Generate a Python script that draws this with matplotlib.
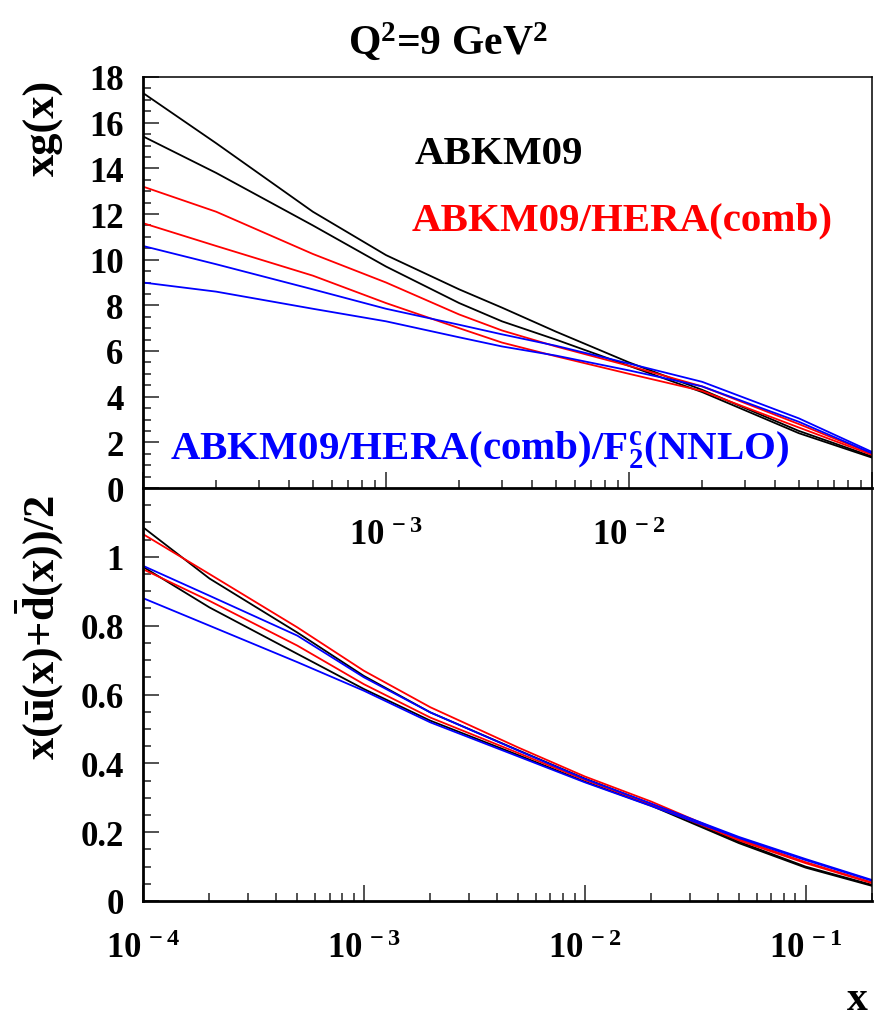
import numpy as np
import matplotlib.pyplot as plt
from matplotlib.ticker import LogLocator, NullFormatter, MultipleLocator, FixedLocator, FixedFormatter

plt.rcParams['font.family'] = ['Liberation Serif', 'DejaVu Serif']
plt.rcParams['font.weight'] = 'bold'
plt.rcParams['mathtext.fontset'] = 'custom'
plt.rcParams['mathtext.rm'] = 'Liberation Serif:bold'
plt.rcParams['mathtext.it'] = 'Liberation Serif:bold'
plt.rcParams['mathtext.bf'] = 'Liberation Serif:bold'

# gluon xg(x) at Q^2 = 9 GeV^2, upper/lower edge of each band
x_glu = [1e-4, 2e-4, 5e-4, 1e-3, 2e-3, 3e-3, 5e-3, 1e-2, 2e-2, 5e-2, 1e-1]
glu_abkm_up = [17.3, 15.1, 12.1, 10.2, 8.7, 7.9, 6.85, 5.5, 4.3, 2.5, 1.38]
glu_abkm_lo = [15.4, 13.8, 11.5, 9.7, 8.1, 7.3, 6.5, 5.35, 4.2, 2.4, 1.33]
glu_hera_up = [13.2, 12.1, 10.25, 9.0, 7.6, 6.9, 6.2, 5.35, 4.45, 2.8, 1.5]
glu_hera_lo = [11.6, 10.6, 9.3, 8.1, 7.0, 6.37, 5.77, 5.0, 4.25, 2.65, 1.45]
glu_f2c_up = [10.6, 9.8, 8.7, 7.85, 7.15, 6.73, 6.23, 5.45, 4.65, 3.05, 1.58]
glu_f2c_lo = [9.0, 8.6, 7.85, 7.3, 6.6, 6.2, 5.8, 5.15, 4.45, 2.9, 1.52]

# sea x(ubar+dbar)/2
x_sea = [1e-4, 2e-4, 5e-4, 1e-3, 2e-3, 5e-3, 1e-2, 2e-2, 5e-2, 1e-1, 2e-1]
sea_abkm_up = [1.086, 0.937, 0.780, 0.654, 0.548, 0.438, 0.356, 0.282, 0.172, 0.100, 0.047]
sea_abkm_lo = [0.971, 0.853, 0.718, 0.616, 0.524, 0.424, 0.347, 0.277, 0.168, 0.097, 0.044]
sea_hera_up = [1.066, 0.950, 0.795, 0.669, 0.563, 0.446, 0.362, 0.289, 0.180, 0.113, 0.054]
sea_hera_lo = [0.964, 0.872, 0.742, 0.630, 0.533, 0.430, 0.352, 0.281, 0.176, 0.110, 0.052]
sea_f2c_up = [0.974, 0.887, 0.771, 0.650, 0.548, 0.437, 0.355, 0.283, 0.186, 0.122, 0.061]
sea_f2c_lo = [0.880, 0.800, 0.694, 0.611, 0.519, 0.420, 0.345, 0.276, 0.183, 0.119, 0.059]

W, H = 874, 1020
fig = plt.figure(figsize=(W / 100, H / 100), dpi=100)
ax1 = fig.add_axes([143 / W, 1 - 489 / H, 729 / W, 411 / H])
ax2 = fig.add_axes([143 / W, 1 - 902 / H, 729 / W, 413 / H])
ax1.set_zorder(3)

lw = 1.3
ax1.plot(x_glu, glu_abkm_up, color='black', lw=lw)
ax1.plot(x_glu, glu_abkm_lo, color='black', lw=lw)
ax1.plot(x_glu, glu_hera_up, color='red', lw=lw)
ax1.plot(x_glu, glu_hera_lo, color='red', lw=lw)
ax1.plot(x_glu, glu_f2c_up, color='blue', lw=lw)
ax1.plot(x_glu, glu_f2c_lo, color='blue', lw=lw)

ax2.plot(x_sea, sea_abkm_up, color='black', lw=lw)
ax2.plot(x_sea, sea_abkm_lo, color='black', lw=lw)
ax2.plot(x_sea, sea_hera_up, color='red', lw=lw)
ax2.plot(x_sea, sea_hera_lo, color='red', lw=lw)
ax2.plot(x_sea, sea_f2c_up, color='blue', lw=lw)
ax2.plot(x_sea, sea_f2c_lo, color='blue', lw=lw)

for ax in (ax1, ax2):
    ax.set_xscale('log')
    ax.xaxis.set_minor_locator(LogLocator(base=10, subs=np.arange(2, 10)))
    ax.xaxis.set_minor_formatter(NullFormatter())
    ax.tick_params(which='both', direction='in', top=False, right=False,
                   width=1.2, color='#333333')
    ax.tick_params(which='major', length=11.5)
    ax.tick_params(which='minor', length=5.5)
    ax.tick_params(axis='y', pad=14)
    ax.tick_params(axis='x', pad=22)
    for s in ('left', 'bottom'):
        ax.spines[s].set_linewidth(2.0)
    for s in ('top', 'right'):
        ax.spines[s].set_linewidth(1.1)

dec = [1e-4, 1e-3, 1e-2, 1e-1]
ax1.set_xlim(1e-4, 1e-1)
ax1.set_ylim(0, 18)
ax1.xaxis.set_major_locator(FixedLocator(dec))
ax1.xaxis.set_major_formatter(FixedFormatter(['', r'$10^{\,-3}$', r'$10^{\,-2}$', '']))
ax1.yaxis.set_major_locator(MultipleLocator(2))
ax1.yaxis.set_minor_locator(MultipleLocator(0.5))
ax1.tick_params(labelsize=25)

ax2.set_xlim(1e-4, 0.2)
ax2.set_ylim(0, 1.2)
ax2.xaxis.set_major_locator(FixedLocator(dec))
ax2.xaxis.set_major_formatter(FixedFormatter([r'$10^{\,-4}$', r'$10^{\,-3}$',
                                              r'$10^{\,-2}$', r'$10^{\,-1}$']))
ax2.yaxis.set_major_locator(FixedLocator([0, 0.2, 0.4, 0.6, 0.8, 1.0]))
ax2.yaxis.set_major_formatter(FixedFormatter(['0', '0.2', '0.4', '0.6', '0.8', '1']))
ax2.yaxis.set_minor_locator(MultipleLocator(0.05))
ax2.tick_params(labelsize=25)
ax2.spines['top'].set_linewidth(0.5)

# legend texts
ax1.text(0.373, 0.791, 'ABKM09', color='black', fontsize=29.5,
         transform=ax1.transAxes, va='baseline')
ax1.text(0.369, 0.630, 'ABKM09/HERA(comb)', color='red', fontsize=29.5,
         transform=ax1.transAxes, va='baseline')
ax1.text(0.037, 0.0706, r'ABKM09/HERA(comb)/F$_2^{\mathrm{c}}$(NNLO)', color='blue',
         fontsize=29.5, transform=ax1.transAxes, va='baseline')

fig.text(448 / W, 1 - 55 / H, r'Q$^2$=9 GeV$^2$', fontsize=30, ha='center', va='baseline')
fig.text(44 / W, 1 - 80 / H, 'xg(x)', fontsize=32, rotation=90, ha='center', va='top')
fig.text(40 / W, 1 - 495 / H, r'x($\bar{\mathrm{u}}$(x)+$\bar{\mathrm{d}}$(x))/2',
         fontsize=32, rotation=90, ha='center', va='top')
fig.text(868 / W, 1 - 1010 / H, 'x', fontsize=30, ha='right', va='baseline')

fig.savefig('out.png', dpi=100)
